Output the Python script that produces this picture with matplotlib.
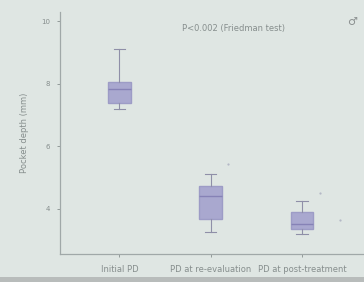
import matplotlib
matplotlib.use("Agg")
import matplotlib.pyplot as plt
from matplotlib.patches import Rectangle

# box statistics (pocket depth, mm)
groups = ["Initial PD", "PD at re-evaluation", "PD at post-treatment"]
whislo = [7.2, 3.26, 3.2]
q1 = [7.4, 3.68, 3.35]
med = [7.84, 4.42, 3.52]
q3 = [8.06, 4.74, 3.9]
whishi = [9.13, 5.13, 4.26]
# stray points next to the boxes: (group position, value)
flier_x = [2.19, 3.2, 3.42]
flier_y = [5.45, 4.5, 3.65]
yticks = [4, 6, 8, 10]

stats = []
for i in range(len(groups)):
    stats.append(dict(label=groups[i], whislo=whislo[i], q1=q1[i], med=med[i],
                      q3=q3[i], whishi=whishi[i], fliers=[]))

bg = "#dfe6e3"
txt = "#868e8d"
fig = plt.figure(figsize=(3.64, 2.82), dpi=100, facecolor=bg)
ax = fig.add_axes([0.165, 0.099, 0.835, 0.858])
ax.set_facecolor(bg)

ax.bxp(stats, positions=[1, 2, 3], widths=0.25, patch_artist=True,
       boxprops=dict(facecolor="#a9a8cf", edgecolor="#9d9cc6"),
       medianprops=dict(color="#8682b6", lw=1),
       whiskerprops=dict(color="#8f8fa8", lw=0.8),
       capprops=dict(color="#8f8fa8", lw=0.8))
ax.plot(flier_x, flier_y, "o", ms=1.6, mfc="#b4b8c6", mec="none")

ax.set_xlim(0.35, 3.68)
ax.set_ylim(2.55, 10.3)
ax.set_yticks(yticks)
ax.tick_params(axis="y", labelsize=5, colors=txt, length=2, width=0.6, pad=5)
ax.tick_params(axis="x", labelsize=6, colors=txt, length=2, width=0.6, pad=6)
ax.set_ylabel("Pocket depth (mm)", fontsize=6, color=txt, labelpad=9)
for s in ["top", "right"]:
    ax.spines[s].set_visible(False)
for s in ["left", "bottom"]:
    ax.spines[s].set_color("#a0a8a8")
    ax.spines[s].set_linewidth(0.9)

ax.text(0.57, 0.92, "P<0.002 (Friedman test)", transform=ax.transAxes,
        fontsize=6, color=txt, ha="center")
fig.text(0.967, 0.91, "\u2642", fontsize=8, color="#8a8f8f", ha="center",
         fontweight="bold")

# darker strip at the bottom of the photographed screen
fig.patches.append(Rectangle((0, 0), 1, 0.018, transform=fig.transFigure,
                             facecolor="#b8bcbb", edgecolor="none"))

fig.savefig("out.png", dpi=100, facecolor=bg)
